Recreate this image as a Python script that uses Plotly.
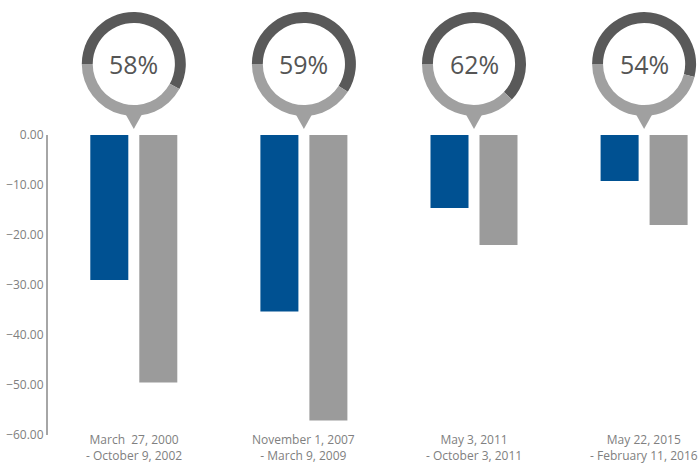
import plotly.graph_objects as go

# ---- data ----
periods = ["March  27, 2000<br>- October 9, 2002",
           "November 1, 2007<br>- March 9, 2009",
           "May 3, 2011<br>- October 3, 2011",
           "May 22, 2015<br>- February 11, 2016"]
series_a = [-29.0, -35.3, -14.6, -9.2]     # blue
series_b = [-49.5, -57.1, -22.0, -18.0]    # gray
pct = [58, 59, 62, 54]
y_ticks = [0, -10, -20, -30, -40, -50, -60]

# ---- layout constants ----
W, H = 699, 464
BLUE = "#005192"
GRAY = "#9b9b9b"
DARK = "#595959"
FONT = "Open Sans"

plot_left = 48
plot_top, plot_bottom = 135, 435
px_per_unit = 170.1
first_center = 133.8
x0 = -(first_center - plot_left) / px_per_unit
x1 = x0 + (W - plot_left) / px_per_unit

xs = list(range(len(periods)))

fig = go.Figure()
fig.add_trace(go.Bar(x=xs, y=series_a, marker=dict(color=BLUE, line=dict(width=0)),
                     showlegend=False, hoverinfo="skip"))
fig.add_trace(go.Bar(x=xs, y=series_b, marker=dict(color=GRAY, line=dict(width=0)),
                     showlegend=False, hoverinfo="skip"))

R = 52
cy = 64
shapes = []
annotations = []
for i, p in enumerate(pct):
    cx = first_center + px_per_unit * i
    fig.add_trace(go.Pie(values=[p, 100 - p], marker=dict(colors=[DARK, "#a0a0a0"], line=dict(width=0)),
                         hole=0.79, sort=False, direction="clockwise", rotation=270,
                         textinfo="none", hoverinfo="skip", showlegend=False,
                         domain=dict(x=[(cx - R) / W, (cx + R) / W],
                                     y=[1 - (cy + R) / H, 1 - (cy - R) / H])))
    annotations.append(dict(x=xs[i], xref="x", y=1 - cy / H, yref="paper",
                            text=f"{p}%", showarrow=False, xanchor="center", yanchor="middle",
                            font=dict(family=FONT, size=25, color="#555555")))
    # category label
    annotations.append(dict(x=xs[i], xref="x", y=1 - 430 / H, yref="paper",
                            text=periods[i], showarrow=False, xanchor="center", yanchor="top",
                            align="center", borderpad=0,
                            font=dict(family=FONT, size=12, color="#808080")))
    hw = 10 / px_per_unit
    xb = xs[i]
    shapes.append(dict(type="path", xref="x", yref="paper",
                       path=f"M {xb - hw},{1 - 111 / H} L {xb + hw},{1 - 111 / H} L {xb},{1 - 129 / H} Z",
                       fillcolor="#a0a0a0", line=dict(width=0), layer="above"))

fig.update_layout(
    width=W, height=H,
    margin=dict(l=0, r=0, t=0, b=0, pad=0),
    paper_bgcolor="white", plot_bgcolor="white",
    barmode="group", bargap=0.424, bargroupgap=0.224,
    font=dict(family=FONT, size=12, color="#808080"),
    shapes=shapes, annotations=annotations,
    xaxis=dict(domain=[plot_left / W, 1], range=[x0, x1], tickvals=xs, showticklabels=False,
               showline=False, showgrid=False, zeroline=False, ticks="", automargin=False),
    yaxis=dict(domain=[1 - plot_bottom / H, 1 - plot_top / H], range=[-60, 0],
               tickvals=y_ticks, tickformat=".2f", automargin=False,
               showline=True, linecolor="#a6a6a6", linewidth=2,
               showgrid=False, zeroline=False, ticks="",
               tickfont=dict(family=FONT, size=12, color="#808080")),
)

fig.write_html("out.html")
